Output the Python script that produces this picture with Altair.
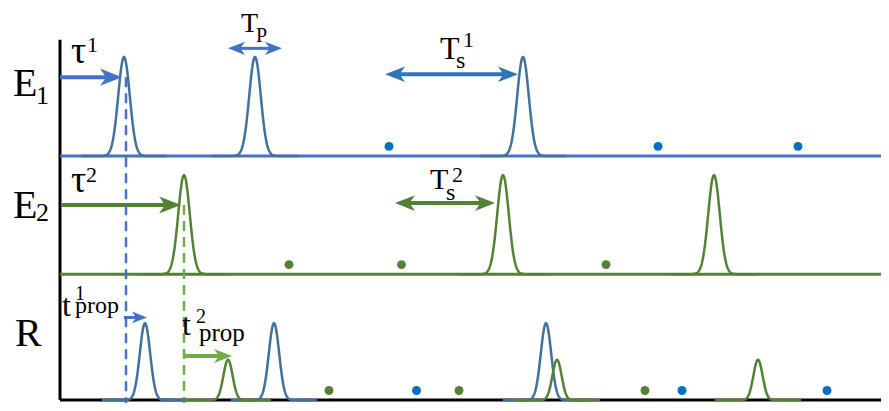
import altair as alt
import numpy as np
import pandas as pd

# ---------------- data (time units / level units) ----------------
# row baselines (E1, E2, R) and the vertical axis
row_base = [2.54, 1.31, 0.0]
axis_top = 3.75
t_end = 82.9

# pulses
e1_centers = [6.4, 19.5, 46.3]
e2_centers = [12.4, 44.3, 65.4]
r_blue_centers = [8.5, 21.4, 48.6]
r_green_centers = [16.8, 49.7, 69.8]
e_amp = 1.03
r_blue_amp = 0.80
r_green_amp = 0.42
e_sigma = 0.58
r_blue_sigma = 0.52
r_green_sigma = 0.46
tail = 4.3

# dots
e1_dots = [32.9, 59.8, 73.8]
e2_dots = [22.9, 34.15, 54.6]
r_green_dots = [26.9, 39.9, 58.5]
r_blue_dots = [35.65, 62.2, 76.7]
e1_dot_level = 2.64
e2_dot_level = 1.41
r_dot_level = 0.10

# dashed markers (t, top level)
dash_t = [6.6, 12.4]
dash_top = [3.36, 2.03]

# arrows
arrow_names = ["tau1", "Tp", "Ts1", "tau2", "Ts2", "tprop1", "tprop2"]
arrow_start = [0.0, 16.8, 32.5, 0.1, 33.5, 6.4, 12.5]
arrow_end = [6.2, 22.2, 45.8, 12.1, 43.5, 8.7, 17.2]
arrow_level = [3.36, 3.66, 3.39, 2.03, 2.05, 0.86, 0.46]
arrow_double = [False, True, True, False, True, False, False]

# labels
label_text = ["E", "1", "E", "2", "R", "τ", "1", "τ", "2",
              "T", "P", "T", "s", "1", "T", "s", "2",
              "t", "1", "prop", "t", "2", "prop"]
label_t = [-4.7, -2.4, -4.7, -2.4, -4.5, 1.1, 2.7, 1.1, 2.6,
           18.1, 19.6, 38.0, 39.6, 40.3, 37.0, 38.6, 39.2,
           0.2, 1.5, 1.5, 12.2, 13.6, 13.9]
label_level = [3.16, 3.08, 1.90, 1.86, 0.56, 3.51, 3.62, 2.17, 2.27,
               3.83, 3.73, 3.55, 3.46, 3.67, 2.20, 2.08, 2.27,
               0.88, 1.04, 0.91, 0.68, 0.80, 0.62]

# ---------------- styles ----------------
BLUE_LINE = "#4472C4"
STEEL = "#41719C"
GREEN = "#548235"
LGREEN = "#70AD47"
DOT_BLUE = "#0070C0"
TS1_BLUE = "#2E75B6"
arrow_color = [BLUE_LINE, BLUE_LINE, TS1_BLUE, GREEN, GREEN, BLUE_LINE, LGREEN]
arrow_head = [484, 289, 400, 484, 400, 225, 324]
arrow_width = [4, 3, 4, 4, 4, 3, 4]
label_size = [40, 26, 40, 26, 40, 38, 22, 38, 22,
              28, 20, 32, 24, 22, 30, 24, 22,
              32, 20, 24, 32, 20, 25]
PX_PER_T = 10.0

XS = alt.Scale(domain=[-5.2, 82.1], nice=False, zero=False)
YS = alt.Scale(domain=[-0.03, 4.08], nice=False, zero=False)


def X(f):
    return alt.X(f, type="quantitative", scale=XS, axis=None)


def Y(f):
    return alt.Y(f, type="quantitative", scale=YS, axis=None)


# straight solid lines: axes + colored baselines + arrow shafts
lines = [
    dict(t=0, t2=0, L=0, L2=axis_top, col="#000000", w=3),
    dict(t=0, t2=t_end, L=row_base[0], L2=row_base[0], col=BLUE_LINE, w=3),
    dict(t=0, t2=t_end, L=row_base[1], L2=row_base[1], col=GREEN, w=3),
    dict(t=0, t2=t_end, L=row_base[2], L2=row_base[2], col="#000000", w=3),
]
heads = []
for s, e, lv, dbl, c, hs, w in zip(arrow_start, arrow_end, arrow_level, arrow_double,
                                   arrow_color, arrow_head, arrow_width):
    r = np.sqrt(hs) / 2.0
    back = 1.4 * r / PX_PER_T
    s2 = s + back if dbl else s
    lines.append(dict(t=s2, t2=e - back, L=lv, L2=lv, col=c, w=w))
    heads.append(dict(t=e, L=lv, ang=0, sz=hs, col=c))
    if dbl:
        heads.append(dict(t=s, L=lv, ang=180, sz=hs, col=c))
lines_df = pd.DataFrame(lines)
heads_df = pd.DataFrame(heads)

dash_df = pd.DataFrame(dict(t=dash_t, L=dash_top, L2=[-0.03, -0.03],
                            col=[BLUE_LINE, LGREEN]))

# pulses
prow = []
pid = 0


def add_pulses(centers, base, amp, sig, color):
    global pid
    for c in centers:
        ts = np.linspace(c - tail, c + tail, 241)
        for t in ts:
            prow.append(dict(pid=pid, t=t, L=base + amp * np.exp(-0.5 * ((t - c) / sig) ** 2),
                             col=color))
        pid += 1


add_pulses(e1_centers, row_base[0], e_amp, e_sigma, STEEL)
add_pulses(e2_centers, row_base[1], e_amp, e_sigma, GREEN)
add_pulses(r_blue_centers, row_base[2], r_blue_amp, r_blue_sigma, STEEL)
add_pulses(r_green_centers, row_base[2], r_green_amp, r_green_sigma, GREEN)
pulse_df = pd.DataFrame(prow)

dots = []
for t in e1_dots:
    dots.append(dict(t=t, L=e1_dot_level, col=DOT_BLUE))
for t in e2_dots:
    dots.append(dict(t=t, L=e2_dot_level, col=GREEN))
for t in r_green_dots:
    dots.append(dict(t=t, L=r_dot_level, col=GREEN))
for t in r_blue_dots:
    dots.append(dict(t=t, L=r_dot_level, col=DOT_BLUE))
dots_df = pd.DataFrame(dots)

text_df = pd.DataFrame(dict(s=label_text, t=label_t, L=label_level, fs=label_size))

HEAD_PATH = "M0,0 L-2,-0.78 L-1.45,0 L-2,0.78 Z"

base_lines = alt.Chart(lines_df).mark_rule(strokeCap="butt").encode(
    x=X("t"), x2=alt.X2("t2"), y=Y("L"), y2=alt.Y2("L2"),
    color=alt.Color("col:N", scale=None),
    strokeWidth=alt.StrokeWidth("w:Q", scale=None),
)
dashed = alt.Chart(dash_df).mark_rule(strokeDash=[10, 6], strokeWidth=2.5).encode(
    x=X("t"), y=Y("L"), y2=alt.Y2("L2"),
    color=alt.Color("col:N", scale=None),
)
pulses = alt.Chart(pulse_df).mark_line(strokeWidth=2.5).encode(
    x=X("t"), y=Y("L"), detail="pid:N",
    color=alt.Color("col:N", scale=None),
)
dot_layer = alt.Chart(dots_df).mark_circle(size=80, opacity=1).encode(
    x=X("t"), y=Y("L"), color=alt.Color("col:N", scale=None),
)
head_layer = alt.Chart(heads_df).mark_point(shape=HEAD_PATH, filled=True, opacity=1,
                                            strokeWidth=0).encode(
    x=X("t"), y=Y("L"),
    angle=alt.Angle("ang:Q", scale=None),
    size=alt.Size("sz:Q", scale=None),
    color=alt.Color("col:N", scale=None),
)
text_layer = alt.Chart(text_df).mark_text(align="left", baseline="alphabetic",
                                          font="Liberation Serif", color="#000000").encode(
    x=X("t"), y=Y("L"), text="s:N",
    size=alt.Size("fs:Q", scale=None),
)

chart = alt.layer(base_lines, dashed, pulses, dot_layer, head_layer, text_layer).properties(
    width=873, height=395, padding=0,
    autosize=alt.AutoSizeParams(type="none"),
).configure_view(stroke=None)

chart.save("out.html", embed_options={"renderer": "svg", "actions": False})
